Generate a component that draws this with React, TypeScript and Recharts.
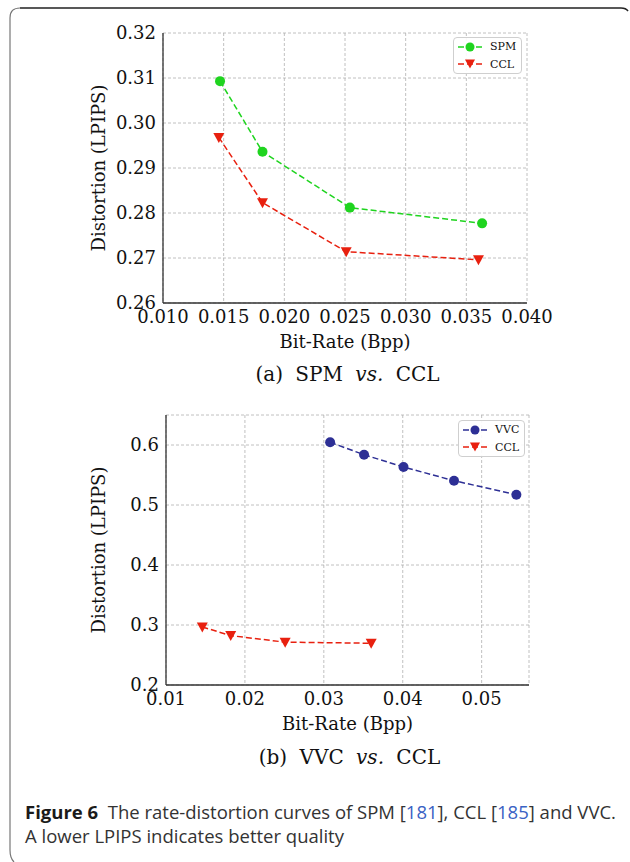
import React from 'react';
import { LineChart, Line, XAxis, YAxis, CartesianGrid, Legend, Label } from 'recharts';

// (a) SPM vs. CCL
const spmRate = [0.0147, 0.0182, 0.0254, 0.0363];
const spmLpips = [0.3093, 0.2936, 0.2812, 0.2777];
const cclRate = [0.0146, 0.0182, 0.0251, 0.036];
const cclLpips = [0.2968, 0.2823, 0.2714, 0.2696];

// (b) VVC vs. CCL
const vvcRate = [0.0308, 0.0351, 0.0401, 0.0465, 0.0544];
const vvcLpips = [0.6045, 0.5838, 0.5633, 0.5405, 0.5172];

const xTicksA = [0.01, 0.015, 0.02, 0.025, 0.03, 0.035, 0.04];
const yTicksA = [0.26, 0.27, 0.28, 0.29, 0.3, 0.31, 0.32];
const xTicksB = [0.01, 0.02, 0.03, 0.04, 0.05];
const yTicksB = [0.2, 0.3, 0.4, 0.5, 0.6];

const GREEN = '#1fd41f';
const RED = '#e8200f';
const NAVY = '#2d2f95';
const AXIS = '#333';
const SERIF = '"DejaVu Serif", serif';

const toPoints = (xs: number[], ys: number[]) => xs.map((x, i) => ({ x, y: ys[i] }));

// minor tick positions between the domain ends
const minorTicks = (domain: number[], step: number) => {
  const out: number[] = [];
  const n = Math.round((domain[1] - domain[0]) / step);
  for (let i = 0; i <= n; i++) out.push(domain[0] + i * step);
  return out;
};

const circleDot = (color: string) => (p: any) =>
  <circle key={`c-${p.index}`} cx={p.cx} cy={p.cy} r={5} fill={color} />;

const triDot = (color: string) => (p: any) =>
  <path key={`t-${p.index}`} d={`M${p.cx - 5.5},${p.cy - 4.5}L${p.cx + 5.5},${p.cy - 4.5}L${p.cx},${p.cy + 5.5}Z`} fill={color} />;

const noTick = () => <g />;

type Series = { name: string; data: { x: number; y: number }[]; color: string; marker: 'circle' | 'tri' };

const LegendBox = ({ items }: { items: Series[] }) => (
  <div style={{
    border: '1px solid #cfcfcf', borderRadius: 4, background: 'rgba(255,255,255,0.9)',
    padding: '0 5px 0 4px', fontFamily: SERIF, fontSize: 11, color: '#111',
  }}>
    {items.map((s) => (
      <div key={s.name} style={{ display: 'flex', alignItems: 'center', height: 17.5 }}>
        <svg width={26} height={12} style={{ marginRight: 6 }}>
          <line x1={0} y1={6} x2={26} y2={6} stroke={s.color} strokeWidth={1.5} strokeDasharray="6 3" />
          {s.marker === 'circle'
            ? <circle cx={12} cy={6} r={4.5} fill={s.color} />
            : <path d="M7,1.5L17,1.5L12,10.5Z" fill={s.color} />}
        </svg>
        <span>{s.name}</span>
      </div>
    ))}
  </div>
);

type PanelProps = {
  series: Series[];
  xDomain: number[];
  yDomain: number[];
  xTicks: number[];
  yTicks: number[];
  xMinor: number;
  yMinor: number;
  xFmt: (v: number) => string;
  yFmt: (v: number) => string;
  margin: { top: number; right: number; left: number; bottom: number };
  yAxisWidth: number;
  legendPos: { left: number; top: number };
};

const Panel = (p: PanelProps) => {
  const xm = minorTicks(p.xDomain, p.xMinor);
  const ym = minorTicks(p.yDomain, p.yMinor);
  const tickStyle = { fontFamily: SERIF, fontSize: 18, fill: '#111' };
  const shared = { type: 'number' as const, allowDataOverflow: true, interval: 0 as const };
  return (
    <LineChart width={630} height={360} margin={p.margin}>
      <CartesianGrid xAxisId="main" yAxisId="main" stroke="#b0b0b0" strokeWidth={0.8} strokeDasharray="3 2" />
      <XAxis xAxisId="main" dataKey="x" {...shared} domain={p.xDomain} ticks={p.xTicks}
        tickFormatter={p.xFmt} tick={tickStyle} tickLine={false} tickSize={0} tickMargin={7}
        axisLine={{ stroke: AXIS, strokeWidth: 1.3 }} height={50}>
        <Label value="Bit-Rate (Bpp)" position="insideBottom" offset={5}
          style={{ fontFamily: SERIF, fontSize: 18, fill: '#111' }} />
      </XAxis>
      <YAxis yAxisId="main" dataKey="y" {...shared} domain={p.yDomain} ticks={p.yTicks}
        tickFormatter={p.yFmt} tick={tickStyle} tickLine={false} tickSize={0} tickMargin={7}
        axisLine={{ stroke: AXIS, strokeWidth: 1.3 }} width={p.yAxisWidth}>
        <Label value="Distortion (LPIPS)" angle={-90} position="insideLeft" offset={99}
          style={{ fontFamily: SERIF, fontSize: 18, fill: '#111', textAnchor: 'middle' }} />
      </YAxis>

      {/* inward tick marks on all four sides */}
      <XAxis xAxisId="bMaj" {...shared} domain={p.xDomain} ticks={p.xTicks} orientation="bottom" mirror
        height={0} tick={noTick} tickSize={5} axisLine={false} tickLine={{ stroke: AXIS }} />
      <XAxis xAxisId="bMin" {...shared} domain={p.xDomain} ticks={xm} orientation="bottom" mirror
        height={0} tick={noTick} tickSize={2.5} axisLine={false} tickLine={{ stroke: AXIS }} />
      <XAxis xAxisId="tMaj" {...shared} domain={p.xDomain} ticks={p.xTicks} orientation="top" mirror
        height={0} tick={noTick} tickSize={5} axisLine={{ stroke: AXIS, strokeWidth: 1.3 }} tickLine={{ stroke: AXIS }} />
      <XAxis xAxisId="tMin" {...shared} domain={p.xDomain} ticks={xm} orientation="top" mirror
        height={0} tick={noTick} tickSize={2.5} axisLine={false} tickLine={{ stroke: AXIS }} />
      <YAxis yAxisId="lMaj" {...shared} domain={p.yDomain} ticks={p.yTicks} orientation="left" mirror
        width={0} tick={noTick} tickSize={5} axisLine={false} tickLine={{ stroke: AXIS }} />
      <YAxis yAxisId="lMin" {...shared} domain={p.yDomain} ticks={ym} orientation="left" mirror
        width={0} tick={noTick} tickSize={2.5} axisLine={false} tickLine={{ stroke: AXIS }} />
      <YAxis yAxisId="rMaj" {...shared} domain={p.yDomain} ticks={p.yTicks} orientation="right" mirror
        width={0} tick={noTick} tickSize={5} axisLine={{ stroke: AXIS, strokeWidth: 1.3 }} tickLine={{ stroke: AXIS }} />
      <YAxis yAxisId="rMin" {...shared} domain={p.yDomain} ticks={ym} orientation="right" mirror
        width={0} tick={noTick} tickSize={2.5} axisLine={false} tickLine={{ stroke: AXIS }} />

      {p.series.map((s) => (
        <Line key={s.name} name={s.name} xAxisId="main" yAxisId="main" data={s.data} dataKey="y"
          type="linear" stroke={s.color} strokeWidth={1.5} strokeDasharray="6 3"
          dot={s.marker === 'circle' ? circleDot(s.color) : triDot(s.color)}
          activeDot={false} isAnimationActive={false} />
      ))}
      <Legend layout="vertical" verticalAlign="middle" align="center"
        wrapperStyle={{ left: p.legendPos.left, top: p.legendPos.top, width: 'auto', height: 'auto' }}
        content={() => <LegendBox items={p.series} />} />
    </LineChart>
  );
};

const seriesA: Series[] = [
  { name: 'SPM', data: toPoints(spmRate, spmLpips), color: GREEN, marker: 'circle' },
  { name: 'CCL', data: toPoints(cclRate, cclLpips), color: RED, marker: 'tri' },
];

const seriesB: Series[] = [
  { name: 'VVC', data: toPoints(vvcRate, vvcLpips), color: NAVY, marker: 'circle' },
  { name: 'CCL', data: toPoints(cclRate, cclLpips), color: RED, marker: 'tri' },
];

export default function App() {
  const capStyle = { fontFamily: SERIF, fontSize: 20, fill: '#111', wordSpacing: 6 } as any;
  const figStyle = { fontFamily: '"Open Sans", sans-serif', fontSize: 18.5, fill: '#333' };
  return (
    <div style={{ position: 'absolute', left: 0, top: 0, width: 630, height: 862, overflow: 'hidden', background: '#fff' }}>
      <div style={{ position: 'absolute', left: 0, top: 0 }}>
        <Panel series={seriesA} xDomain={[0.01, 0.04]} yDomain={[0.26, 0.32]}
          xTicks={xTicksA} yTicks={yTicksA} xMinor={0.001} yMinor={0.002}
          xFmt={(v) => v.toFixed(3)} yFmt={(v) => v.toFixed(2)}
          margin={{ top: 33, right: 103, left: 0, bottom: 7 }} yAxisWidth={163}
          legendPos={{ left: 453, top: 37 }} />
      </div>
      <div style={{ position: 'absolute', left: 0, top: 390 }}>
        <Panel series={seriesB} xDomain={[0.01, 0.056]} yDomain={[0.2, 0.65]}
          xTicks={xTicksB} yTicks={yTicksB} xMinor={0.002} yMinor={0.02}
          xFmt={(v) => v.toFixed(2)} yFmt={(v) => v.toFixed(1)}
          margin={{ top: 25, right: 101, left: 0, bottom: 15 }} yAxisWidth={166}
          legendPos={{ left: 458, top: 30 }} />
      </div>
      <svg width={630} height={862} style={{ position: 'absolute', left: 0, top: 0, pointerEvents: 'none' }}>
        <path d="M10,850 L10,18 Q10,8 20,8" fill="none" stroke="#777" strokeWidth={1.2} />
        <path d="M20,8 L621,8 Q626,8 628,11" fill="none" stroke="#222" strokeWidth={1.6} />
        <path d="M10,850 Q10,858 14,862" fill="none" stroke="#777" strokeWidth={1.2} />
        <text x={347.5} y={381} textAnchor="middle" style={capStyle}>
          (a) SPM <tspan fontStyle="italic">vs.</tspan> CCL
        </text>
        <text x={349.5} y={764} textAnchor="middle" style={capStyle}>
          (b) VVC <tspan fontStyle="italic">vs.</tspan> CCL
        </text>
        <text x={25} y={819} style={figStyle}>
          <tspan fontWeight="bold" fill="#1a1a1a">Figure 6</tspan>
          <tspan>{'\u00a0 The rate-distortion curves of SPM ['}</tspan>
          <tspan fill="#3a62c4">181</tspan>
          <tspan>{'], CCL ['}</tspan>
          <tspan fill="#3a62c4">185</tspan>
          <tspan>{'] and VVC.'}</tspan>
        </text>
        <text x={25} y={843} style={figStyle}>
          A lower LPIPS indicates better quality
        </text>
      </svg>
    </div>
  );
}
